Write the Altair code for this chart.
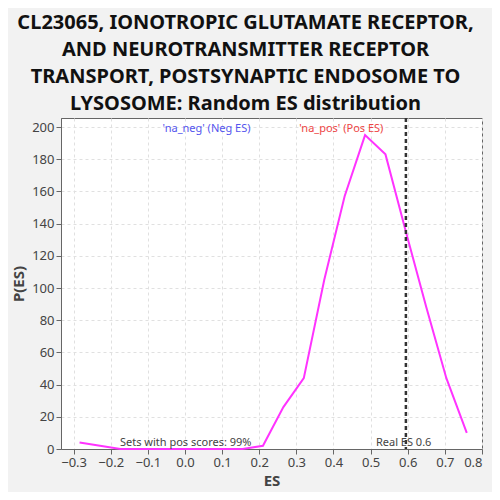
import altair as alt
import pandas as pd

es = [-0.284, -0.229, -0.174, -0.119, -0.064, -0.009, 0.046, 0.100, 0.155, 0.210,
      0.265, 0.320, 0.375, 0.430, 0.485, 0.540, 0.595, 0.650, 0.704, 0.759]
pes = [4, 2, 0, 0, 0, 0, 0, 0, 0, 2,
       26, 44, 105, 157, 195, 183, 135, 88, 44, 10]
real_es = 0.595
title_lines = ["CL23065, IONOTROPIC GLUTAMATE RECEPTOR,",
               "AND NEUROTRANSMITTER RECEPTOR",
               "TRANSPORT, POSTSYNAPTIC ENDOSOME TO",
               "LYSOSOME: Random ES distribution"]
x_ticks = [-0.3, -0.2, -0.1, 0.0, 0.1, 0.2, 0.3, 0.4, 0.5, 0.6, 0.7, 0.8]
y_ticks = [0, 20, 40, 60, 80, 100, 120, 140, 160, 180, 200]

ann_text = ["'na_neg' (Neg ES)", "'na_pos' (Pos ES)"]
ann_x = [0.058, 0.421]
ann_y = [199, 199]
ann_color = ["#5555ee", "#ee4444"]

foot_text = ["Sets with pos scores: 99%", "Real ES 0.6"]
foot_x = [0.002, 0.589]
foot_y = [0, 0]

df = pd.DataFrame({"ES": es, "P": pes})
ann = pd.DataFrame({"t": ann_text, "x": ann_x, "y": ann_y, "c": ann_color})
foot = pd.DataFrame({"t": foot_text, "x": foot_x, "y": foot_y})
rule_df = pd.DataFrame({"x": [real_es]})

FONT = "Noto Sans"
xscale = alt.Scale(domain=[-0.334, 0.8], nice=False, zero=False)
yscale = alt.Scale(domain=[0, 205.6], nice=False)

common_axis = dict(grid=True, gridDash=[3, 3], gridColor="#e0e0e0",
                   labelFontSize=13, labelColor="#444", titleFontSize=15,
                   titleColor="#444", titleFontWeight="bold",
                   tickColor="#666", domainColor="#666", labelFont=FONT,
                   titleFont=FONT, labelOverlap=False)
xaxis = alt.Axis(title="ES", values=x_ticks, format=".1f", titlePadding=4,
                 **common_axis)
yaxis = alt.Axis(title="P(ES)", values=y_ticks, titlePadding=5, **common_axis)

line = alt.Chart(df).mark_line(color="#ff33ff", strokeWidth=2).encode(
    x=alt.X("ES:Q", scale=xscale, axis=xaxis),
    y=alt.Y("P:Q", scale=yscale, axis=yaxis),
)

rule = alt.Chart(rule_df).mark_rule(color="#333333", strokeWidth=2.5,
                                     strokeDash=[4, 3]).encode(
    x=alt.X("x:Q", scale=xscale, axis=xaxis))

ann_marks = alt.Chart(ann).mark_text(fontSize=11, font=FONT, baseline="middle").encode(
    x=alt.X("x:Q", scale=xscale, axis=xaxis), y=alt.Y("y:Q", scale=yscale, axis=yaxis),
    text="t:N", color=alt.Color("c:N", scale=None))

foot_marks = alt.Chart(foot).mark_text(fontSize=11, font=FONT, baseline="bottom",
                                        color="#444", dy=-1).encode(
    x=alt.X("x:Q", scale=xscale, axis=xaxis), y=alt.Y("y:Q", scale=yscale, axis=yaxis),
    text="t:N")

chart = alt.layer(line, rule, ann_marks, foot_marks).properties(
    width=421, height=331,
    title=alt.TitleParams(text=title_lines, fontSize=20, font=FONT, fontWeight="bold",
                          color="#111", lineHeight=27, anchor="middle", offset=3,
                          dx=-26),
    background="#f2f2f2",
    autosize=alt.AutoSizeParams(type="none"),
    padding={"left": 53, "top": 110, "right": 10, "bottom": 43},
).configure_view(stroke="#666", fill="white").configure_axis(
    labelFont=FONT, titleFont=FONT)

chart.save("out.html", embed_options={"renderer": "svg", "actions": False})
